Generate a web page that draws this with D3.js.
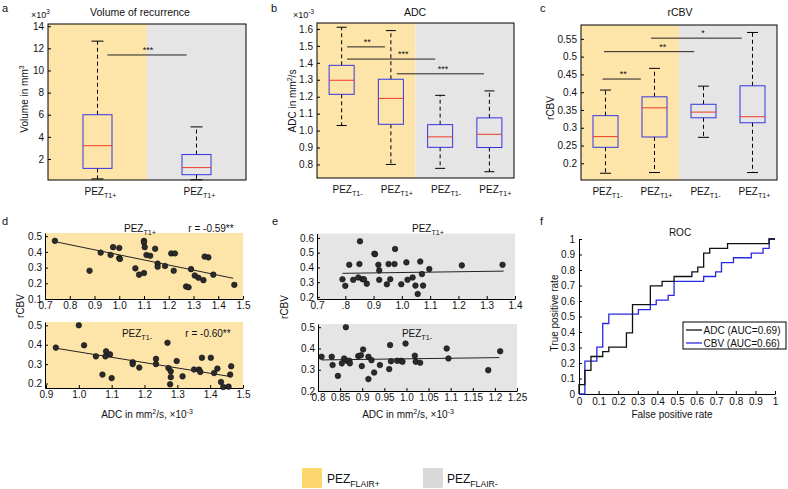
<!DOCTYPE html>
<html>
<head>
<meta charset="utf-8">
<script src="https://cdn.jsdelivr.net/npm/d3@7"></script>
<style>
body { margin: 0; background: #fff; }
svg text { font-family: "Liberation Sans", Arial, sans-serif; fill: #111; }
</style>
</head>
<body>
<div id="canvas"></div>
<script>
// ---- data ----
const groupsA = ["T1+", "T1+"];
const groupsBC = ["T1-", "T1+", "T1-", "T1+"];

// [lower whisker, q1, median, q3, upper whisker]
const volumeStats = [[0.2, 1.15, 3.2, 6.0, 12.65], [0.12, 0.58, 1.22, 2.4, 4.9]];
const adcStats = [[1.03, 1.214, 1.297, 1.385, 1.61], [0.80, 1.037, 1.19, 1.303, 1.59],
                  [0.777, 0.901, 0.963, 1.035, 1.208], [0.757, 0.90, 0.978, 1.075, 1.234]];
const rcbvStats = [[0.172, 0.245, 0.275, 0.334, 0.406], [0.174, 0.274, 0.356, 0.387, 0.467],
                   [0.273, 0.328, 0.344, 0.366, 0.417], [0.174, 0.314, 0.331, 0.418, 0.568]];

// significance bars: [from group, to group, level, stars, star position]
const sigA = [[1.1, 1.9, 11.4, "***", 1.51]];
const sigB = [[1.11, 1.88, 1.494, "**", 1.52], [1.11, 2.9, 1.422, "***", 2.25], [2.12, 3.89, 1.335, "***", 3.06]];
const sigC = [[0.94, 1.72, 0.437, "**", 1.36], [0.97, 2.81, 0.514, "**", 2.17], [1.93, 3.78, 0.552, "*", 2.99]];

const volumeTicks = [2, 4, 6, 8, 10, 12, 14];
const adcTicks = [0.8, 0.9, 1.0, 1.1, 1.2, 1.3, 1.4, 1.5, 1.6];
const rcbvTicks = [0.2, 0.25, 0.3, 0.35, 0.4, 0.45, 0.5, 0.55];

// scatter: [ADC, rCBV]
const scatterDTop = [[0.74,0.47],[0.88,0.28],[0.925,0.395],[0.965,0.38],[0.975,0.43],[1.0,0.425],
  [1.0,0.36],[1.003,0.355],[1.065,0.295],[1.08,0.255],[1.1,0.265],[1.1,0.47],[1.1,0.46],[1.103,0.43],
  [1.11,0.38],[1.125,0.375],[1.145,0.42],[1.155,0.325],[1.155,0.305],[1.185,0.31],[1.21,0.39],
  [1.225,0.39],[1.22,0.28],[1.27,0.18],[1.28,0.175],[1.29,0.29],[1.305,0.25],[1.32,0.235],
  [1.34,0.22],[1.345,0.37],[1.36,0.365],[1.38,0.255],[1.465,0.19]];
const fitDTop = [[0.74, 0.465], [1.46, 0.232]];

const scatterDBottom = [[0.93,0.385],[1.0,0.50],[1.016,0.397],[1.052,0.34],[1.072,0.246],[1.081,0.34],
  [1.083,0.366],[1.095,0.35],[1.10,0.228],[1.164,0.31],[1.164,0.30],[1.184,0.282],[1.235,0.327],
  [1.235,0.30],[1.27,0.41],[1.273,0.28],[1.28,0.263],[1.28,0.233],[1.278,0.196],[1.298,0.316],
  [1.316,0.237],[1.351,0.272],[1.366,0.272],[1.37,0.26],[1.375,0.333],[1.402,0.333],[1.412,0.254],
  [1.422,0.277],[1.433,0.208],[1.44,0.182],[1.456,0.184],[1.461,0.246],[1.464,0.289]];
const fitDBottom = [[0.93, 0.382], [1.465, 0.235]];

const scatterETop = [[0.79,0.32],[0.80,0.275],[0.814,0.418],[0.828,0.316],[0.846,0.332],[0.85,0.423],
  [0.852,0.577],[0.861,0.32],[0.866,0.32],[0.876,0.29],[0.903,0.493],[0.905,0.49],[0.917,0.418],
  [0.92,0.38],[0.92,0.316],[0.947,0.286],[0.953,0.423],[0.959,0.32],[0.974,0.423],[0.976,0.525],
  [0.998,0.286],[1.016,0.434],[1.02,0.316],[1.038,0.332],[1.048,0.277],[1.056,0.22],[1.065,0.44],
  [1.071,0.355],[1.075,0.277],[1.097,0.389],[1.212,0.414],[1.356,0.418]];
const fitETop = [[0.79, 0.36], [1.36, 0.375]];

const scatterEBottom = [[0.808,0.361],[0.831,0.361],[0.833,0.322],[0.845,0.271],[0.854,0.33],
  [0.859,0.353],[0.863,0.5],[0.866,0.342],[0.871,0.342],[0.872,0.33],[0.891,0.364],[0.897,0.368],
  [0.899,0.317],[0.902,0.395],[0.914,0.361],[0.914,0.256],[0.921,0.345],[0.927,0.287],[0.94,0.322],
  [0.961,0.303],[0.963,0.416],[0.965,0.34],[0.979,0.342],[0.988,0.342],[0.991,0.338],[0.998,0.423],
  [1.019,0.366],[1.021,0.338],[1.031,0.333],[1.091,0.40],[1.095,0.353],[1.185,0.298],[1.212,0.387]];
const fitEBottom = [[0.808, 0.346], [1.21, 0.357]];

// ROC step vertices: [false positive rate, true positive rate]
const rocAdc = [[0,0],[0,0.061],[0.030,0.152],[0.061,0.242],[0.121,0.273],[0.152,0.303],[0.242,0.394],
  [0.273,0.576],[0.364,0.697],[0.424,0.727],[0.485,0.758],[0.576,0.788],[0.606,0.818],[0.636,0.909],
  [0.667,0.939],[0.758,0.970],[0.970,1.0],[1.0,1.0]];
const rocCbv = [[0,0],[0.030,0.212],[0.091,0.303],[0.121,0.455],[0.152,0.515],[0.303,0.545],
  [0.364,0.576],[0.394,0.606],[0.455,0.636],[0.485,0.727],[0.636,0.758],[0.697,0.788],[0.727,0.848],
  [0.788,0.879],[0.879,0.909],[0.939,0.939],[0.970,1.0],[1.0,1.0]];
const rocTicks = [0, 0.1, 0.2, 0.3, 0.4, 0.5, 0.6, 0.7, 0.8, 0.9, 1];

const YELLOW = "#fde5aa", GREY = "#e5e5e5";
const BLUE = "#3535e0", RED = "#f03a2a";

const svg = d3.select("#canvas")
    .append("svg")
    .attr("width", 788)
    .attr("height", 489);

// text with a subscript part
function subText(g, x, y, base, sub, size, anchor) {
    const t = g.append("text")
        .attr("x", x).attr("y", y)
        .attr("font-size", size)
        .attr("text-anchor", anchor || "middle");
    t.append("tspan").text(base);
    t.append("tspan").attr("dy", size * 0.3).attr("font-size", size * 0.72).text(sub);
    return t;
}

// "ADC in mm2/s" style text with superscript in the middle
function supText(g, before, sup, after, size) {
    g.append("tspan").text(before);
    g.append("tspan").attr("dy", -size * 0.4).attr("font-size", size * 0.7).text(sup);
    if (after) g.append("tspan").attr("dy", size * 0.4).text(after);
}

function letter(x, y, s) {
    svg.append("text").attr("x", x).attr("y", y).attr("font-size", 11).text(s);
}

function yLabel(x, y, fn) {
    const t = svg.append("text")
        .attr("transform", `translate(${x},${y}) rotate(-90)`)
        .attr("text-anchor", "middle")
        .attr("font-size", 10);
    fn(t);
}

function boxPanel(o) {
    const g = svg.append("g");
    const h = o.bottom - o.top;
    const x = d3.scaleLinear().domain([0.5, o.stats.length + 0.5]).range([o.left, o.right]);
    const y = d3.scaleLinear().domain(o.yDomain).range([o.bottom, o.top]);

    g.append("rect").attr("x", o.left).attr("y", o.top)
        .attr("width", x(o.split) - o.left).attr("height", h).attr("fill", YELLOW);
    g.append("rect").attr("x", x(o.split)).attr("y", o.top)
        .attr("width", o.right - x(o.split)).attr("height", h).attr("fill", GREY);

    const ay = g.append("g")
        .attr("transform", `translate(${o.left},0)`)
        .call(d3.axisLeft(y).tickValues(o.ticks).tickFormat(o.fmt).tickSize(-3).tickPadding(4));
    ay.select(".domain").remove();
    ay.selectAll("text").attr("font-size", 10);

    const b = g.append("g").selectAll("g")
        .data(o.stats)
        .join("g")
        .attr("transform", (d, i) => `translate(${x(i + 1)},0)`);

    b.append("line").attr("y1", d => y(d[3])).attr("y2", d => y(d[4]))
        .attr("stroke", "#000").attr("stroke-dasharray", "4,3");
    b.append("line").attr("y1", d => y(d[1])).attr("y2", d => y(d[0]))
        .attr("stroke", "#000").attr("stroke-dasharray", "4,3");
    b.append("line").attr("x1", -o.cap / 2).attr("x2", o.cap / 2)
        .attr("y1", d => y(d[4])).attr("y2", d => y(d[4])).attr("stroke", "#000");
    b.append("line").attr("x1", -o.cap / 2).attr("x2", o.cap / 2)
        .attr("y1", d => y(d[0])).attr("y2", d => y(d[0])).attr("stroke", "#000");
    b.append("rect").attr("x", -o.bw / 2).attr("width", o.bw)
        .attr("y", d => y(d[3])).attr("height", d => y(d[1]) - y(d[3]))
        .attr("fill", "none").attr("stroke", BLUE);
    b.append("line").attr("x1", -o.bw / 2).attr("x2", o.bw / 2)
        .attr("y1", d => y(d[2])).attr("y2", d => y(d[2])).attr("stroke", RED);

    // significance bars
    o.sig.forEach(s => {
        g.append("line").attr("x1", x(s[0])).attr("x2", x(s[1]))
            .attr("y1", y(s[2])).attr("y2", y(s[2])).attr("stroke", "#222");
        g.append("text").attr("x", x(s[4])).attr("y", y(s[2]) - 2)
            .attr("text-anchor", "middle").attr("font-size", 9).text(s[3]);
    });

    g.append("rect").attr("x", o.left).attr("y", o.top)
        .attr("width", o.right - o.left).attr("height", h)
        .attr("fill", "none").attr("stroke", "#000");

    o.groups.forEach((s, i) => subText(g, x(i + 1) + o.dx, o.bottom + 15, "PEZ", s, 10));

    g.append("text").attr("x", (o.left + o.right) / 2 + o.titleDx).attr("y", 16)
        .attr("text-anchor", "middle").attr("font-size", 10.5).text(o.title);
}

function scatterPanel(o) {
    const g = svg.append("g");
    const x = d3.scaleLinear().domain(o.xDomain).range([o.left, o.right]);
    const y = d3.scaleLinear().domain(o.yDomain).range([o.bottom, o.top]);

    g.append("rect").attr("x", o.left).attr("y", o.top)
        .attr("width", o.right - o.left).attr("height", o.bottom - o.top).attr("fill", o.bg);

    const ax = g.append("g")
        .attr("transform", `translate(0,${o.bottom})`)
        .call(d3.axisBottom(x).tickValues(o.xTicks).tickFormat(o.xFmt).tickSize(-3).tickSizeOuter(0).tickPadding(3));
    ax.selectAll("text").attr("font-size", 10);
    const ay = g.append("g")
        .attr("transform", `translate(${o.left},0)`)
        .call(d3.axisLeft(y).tickValues(o.yTicks).tickFormat(d3.format(".1f")).tickSize(-3).tickSizeOuter(0).tickPadding(3));
    ay.selectAll("text").attr("font-size", 10);

    g.append("path")
        .datum(o.fit)
        .attr("fill", "none")
        .attr("stroke", "#222")
        .attr("d", d3.line().x(d => x(d[0])).y(d => y(d[1])));

    g.append("g").selectAll("circle")
        .data(o.points)
        .join("circle")
        .attr("cx", d => x(d[0]))
        .attr("cy", d => y(d[1]))
        .attr("r", 2.8)
        .attr("fill", "#2b2b2b")
        .attr("stroke", "#111")
        .attr("stroke-width", 0.6);

    subText(g, o.labelX, o.labelY, "PEZ", o.group, 10);
    if (o.r) g.append("text").attr("x", o.rX).attr("y", o.labelY).attr("text-anchor", "middle")
        .attr("font-size", 10).text(o.r);
}

// ---- panel a, b, c ----
boxPanel({ stats: volumeStats, groups: groupsA, sig: sigA, split: 1.5,
    left: 48, right: 246, top: 24, bottom: 180, yDomain: [0.1, 14.2],
    ticks: volumeTicks, fmt: d3.format("d"), bw: 29, cap: 12, dx: 3,
    title: "Volume of recurrence", titleDx: -7 });
boxPanel({ stats: adcStats, groups: groupsBC, sig: sigB, split: 2.5,
    left: 317, right: 514, top: 23, bottom: 178, yDomain: [0.72, 1.635],
    ticks: adcTicks, fmt: d3.format(".1f"), bw: 25, cap: 10, dx: 6,
    title: "ADC", titleDx: -0.5 });
boxPanel({ stats: rcbvStats, groups: groupsBC, sig: sigC, split: 2.5,
    left: 581, right: 777, top: 25, bottom: 180, yDomain: [0.153, 0.589],
    ticks: rcbvTicks, fmt: d3.format(".2~f"), bw: 25, cap: 11, dx: 2,
    title: "rCBV", titleDx: 1 });

letter(2, 12, "a");
letter(271, 12, "b");
letter(540, 12, "c");

svg.append("text").attr("x", 31).attr("y", 18).attr("font-size", 9)
    .call(t => supText(t, "×10", "3", null, 9));
svg.append("text").attr("x", 293).attr("y", 18).attr("font-size", 9)
    .call(t => supText(t, "×10", "-3", null, 9));

yLabel(28, 99, t => supText(t, "Volume in mm", "3", null, 10));
yLabel(296, 101, t => supText(t, "ADC in mm", "2", "/s", 10));
yLabel(554, 108, t => t.text("rCBV"));

// ---- panel d, e ----
const fmt1 = d3.format(".1f");
scatterPanel({ points: scatterDTop, fit: fitDTop, bg: YELLOW,
    left: 45, right: 243, top: 233, bottom: 299, xDomain: [0.7, 1.5], yDomain: [0.1, 0.52],
    xTicks: [0.7, 0.8, 0.9, 1.0, 1.1, 1.2, 1.3, 1.4, 1.5], xFmt: fmt1, yTicks: [0.1, 0.2, 0.3, 0.4, 0.5],
    group: "T1+", labelX: 140, labelY: 232, r: "r = -0.59**", rX: 211 });
scatterPanel({ points: scatterDBottom, fit: fitDBottom, bg: YELLOW,
    left: 45, right: 243, top: 322, bottom: 388, xDomain: [0.897, 1.5], yDomain: [0.177, 0.517],
    xTicks: [0.9, 1.0, 1.1, 1.2, 1.3, 1.4, 1.5], xFmt: fmt1, yTicks: [0.2, 0.3, 0.4, 0.5],
    group: "T1-", labelX: 137, labelY: 337, r: "r = -0.60**", rX: 208 });
scatterPanel({ points: scatterETop, fit: fitETop, bg: GREY,
    left: 317, right: 515, top: 233.5, bottom: 299, xDomain: [0.7, 1.4], yDomain: [0.186, 0.63],
    xTicks: [0.7, 0.8, 0.9, 1.0, 1.1, 1.2, 1.3, 1.4], xFmt: d => d === 0.8 ? ".8" : fmt1(d),
    yTicks: [0.2, 0.3, 0.4, 0.5, 0.6], group: "T1+", labelX: 428, labelY: 232 });
scatterPanel({ points: scatterEBottom, fit: fitEBottom, bg: GREY,
    left: 318, right: 517, top: 324, bottom: 391, xDomain: [0.8, 1.25], yDomain: [0.2, 0.515],
    xTicks: [0.8, 0.85, 0.9, 0.95, 1.0, 1.05, 1.1, 1.15, 1.2, 1.25],
    xFmt: d => { const s = d.toFixed(2); return s.endsWith("0") ? d.toFixed(1) : s; },
    yTicks: [0.2, 0.3, 0.4, 0.5], group: "T1-", labelX: 417, labelY: 337 });

letter(2, 225, "d");
letter(272, 225, "e");
letter(540, 225, "f");

yLabel(24, 306, t => t.text("rCBV"));
yLabel(288, 307, t => t.text("rCBV"));

svg.append("text").attr("x", 147).attr("y", 418).attr("text-anchor", "middle").attr("font-size", 10)
    .call(t => { supText(t, "ADC in mm", "2", "/s, ×10", 10); t.append("tspan").attr("dy", -4).attr("font-size", 7).text("-3"); });
svg.append("text").attr("x", 408).attr("y", 418).attr("text-anchor", "middle").attr("font-size", 10)
    .call(t => { supText(t, "ADC in mm", "2", "/s, ×10", 10); t.append("tspan").attr("dy", -4).attr("font-size", 7).text("-3"); });

// ---- panel f: ROC ----
{
    const g = svg.append("g");
    const left = 579, right = 775, top = 239, bottom = 394;
    const x = d3.scaleLinear().domain([0, 1]).range([left, right]);
    const y = d3.scaleLinear().domain([0, 1]).range([bottom, top]);
    const ax = g.append("g").attr("transform", `translate(0,${bottom})`)
        .call(d3.axisBottom(x).tickValues(rocTicks).tickFormat(d3.format("~g")).tickSize(-3).tickSizeOuter(0).tickPadding(4));
    ax.selectAll("text").attr("font-size", 10);
    const ay = g.append("g").attr("transform", `translate(${left},0)`)
        .call(d3.axisLeft(y).tickValues(rocTicks).tickFormat(d3.format("~g")).tickSize(-3).tickSizeOuter(0).tickPadding(4));
    ay.selectAll("text").attr("font-size", 10);

    const line = d3.line().x(d => x(d[0])).y(d => y(d[1])).curve(d3.curveStepAfter);
    g.append("path").datum(rocCbv).attr("fill", "none").attr("stroke", "#2828e0").attr("stroke-width", 1.3).attr("d", line);
    g.append("path").datum(rocAdc).attr("fill", "none").attr("stroke", "#111").attr("stroke-width", 1.3).attr("d", line);

    g.append("text").attr("x", 680).attr("y", 236).attr("text-anchor", "middle").attr("font-size", 10).text("ROC");
    g.append("text").attr("x", 672).attr("y", 418).attr("text-anchor", "middle").attr("font-size", 10).text("False positive rate");
    yLabel(558, 313, t => t.text("True positive rate"));

    const lg = g.append("g");
    lg.append("rect").attr("x", 683).attr("y", 322).attr("width", 103).attr("height", 27)
        .attr("fill", "#fff").attr("stroke", "#000");
    [["ADC (AUC=0.69)", "#111"], ["CBV (AUC=0.66)", "#2828e0"]].forEach((e, i) => {
        lg.append("line").attr("x1", 686).attr("x2", 702).attr("y1", 330 + i * 13).attr("y2", 330 + i * 13)
            .attr("stroke", e[1]).attr("stroke-width", 1.3);
        lg.append("text").attr("x", 703.5).attr("y", 334 + i * 13).attr("font-size", 10).text(e[0]);
    });
}

// ---- bottom legend ----
svg.append("rect").attr("x", 302).attr("y", 468).attr("width", 20).attr("height", 20).attr("fill", "#fcd66d");
subText(svg, 327, 483, "PEZ", "FLAIR+", 12, "start");
svg.append("rect").attr("x", 423).attr("y", 468).attr("width", 20).attr("height", 20).attr("fill", "#d9d9d9");
subText(svg, 447, 483, "PEZ", "FLAIR-", 12, "start");
</script>
</body>
</html>
